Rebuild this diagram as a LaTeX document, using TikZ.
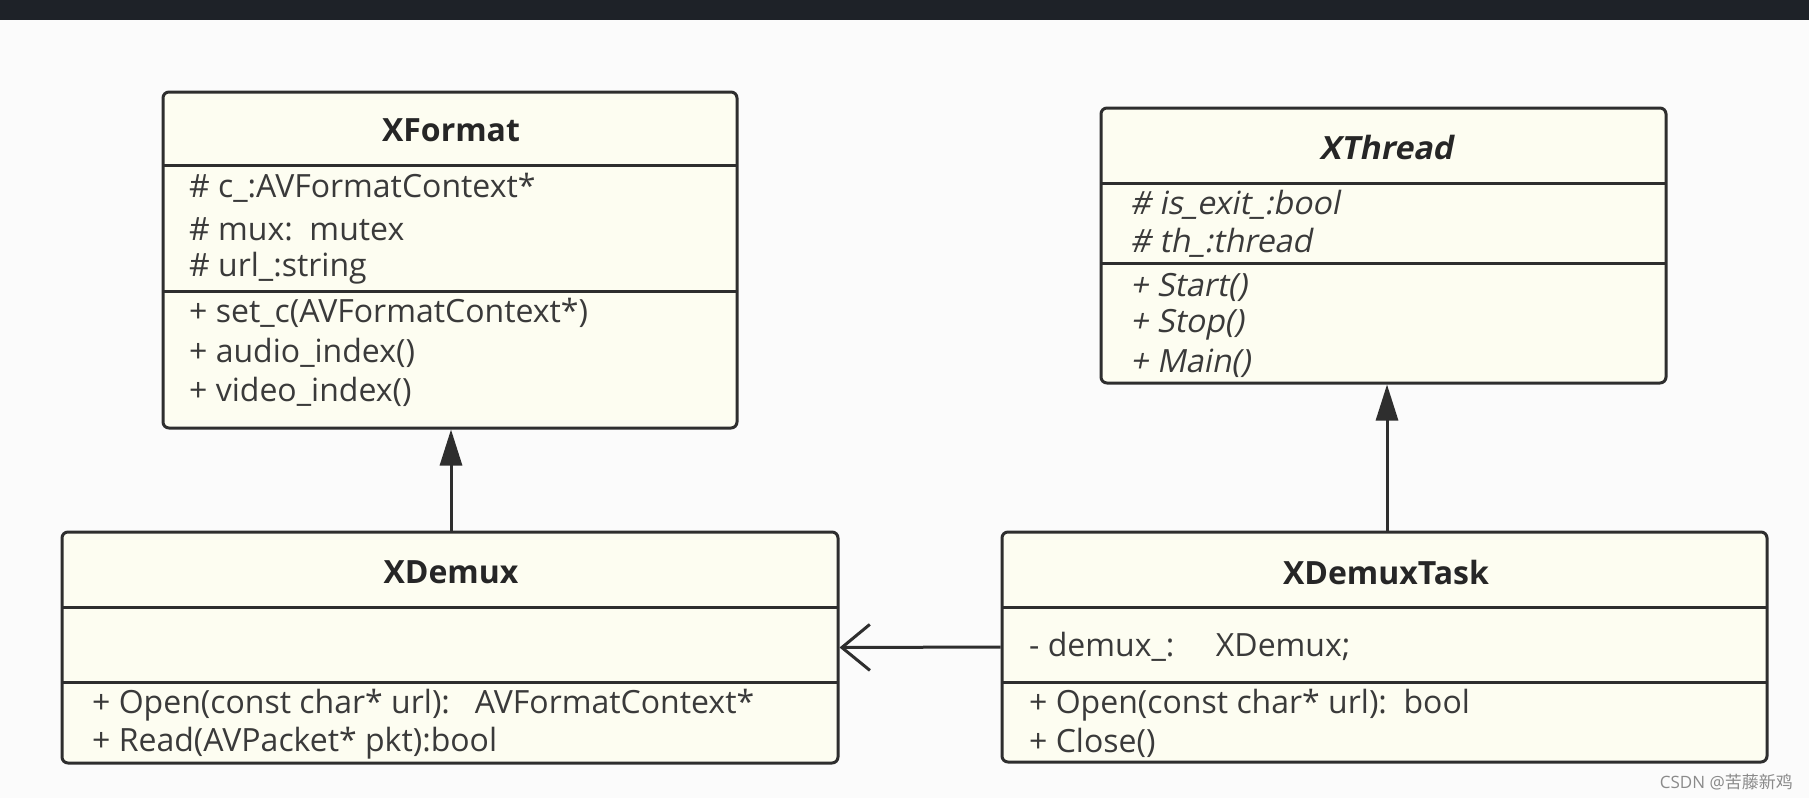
\documentclass[tikz,border=0pt]{standalone}
\usepackage{fontspec}
\setmainfont{Open Sans}
\newfontfamily\oblfont[FakeSlant=0.2]{Open Sans}
\newfontfamily\cjkfont{Noto Sans CJK SC}
\usetikzlibrary{arrows.meta}
\definecolor{bgc}{HTML}{FBFBFB}
\definecolor{barc}{HTML}{1E2228}
\definecolor{boxfill}{HTML}{FDFDF1}
\definecolor{boxline}{HTML}{2E2E2E}
\definecolor{txt}{HTML}{3A3A3A}
\definecolor{ttl}{HTML}{262626}
\definecolor{wm}{HTML}{8A8A8A}
\tikzset{
  umlbox/.style={draw=boxline, line width=3pt, fill=boxfill, rounded corners=6pt, rectangle, inner sep=0pt},
  sepline/.style={draw=boxline, line width=3pt},
  row/.style={anchor=west, inner sep=0pt, text=txt, font=\fontsize{32}{38}\selectfont},
  irow/.style={row, font=\oblfont\fontsize{32}{38}\selectfont},
  title/.style={anchor=center, inner sep=0pt, text=ttl, font=\fontsize{32}{38}\selectfont\bfseries},
  ititle/.style={title, font=\oblfont\fontsize{32}{38}\selectfont\bfseries},
  conn/.style={draw=boxline, line width=3pt},
}
\begin{document}
\begin{tikzpicture}[x=1pt,y=-1pt]
\fill[bgc] (0,0) rectangle (1809,798);
\useasboundingbox (0,0) rectangle (1809,798);
\fill[barc] (0,0) rectangle (1809,20);

% XFormat
\node[umlbox, minimum width=574pt, minimum height=336pt] (xf) at (450,260) {};
\draw[sepline] (163,165) -- (737,165);
\draw[sepline] (163,291) -- (737,291);
\node[title] (xft) at (451,130) {XFormat};
\node[row] (xf1) at (189,188) {\# c\_:AVFormatContext*};
\node[row] (xf2) at (189,229) {\# mux:\ \ mutex};
\node[row] (xf3) at (189,268) {\# url\_:string};
\node[row] (xf4) at (189,313) {+ set\_c(AVFormatContext*)};
\node[row] (xf5) at (189,353) {+ audio\_index()};
\node[row] (xf6) at (189,392) {+ video\_index()};

% XThread
\node[umlbox, minimum width=565pt, minimum height=275pt] (xt) at (1383.5,245.5) {};
\draw[sepline] (1101,183) -- (1666,183);
\draw[sepline] (1101,263) -- (1666,263);
\node[ititle] (xtt) at (1386,147) {XThread};
\node[irow] (xt1) at (1130,205) {\# is\_exit\_:bool};
\node[irow] (xt2) at (1130,243) {\# th\_:thread};
\node[irow] (xt3) at (1130,287) {+ Start()};
\node[irow] (xt4) at (1130,325) {+ Stop()};
\node[irow] (xt5) at (1130,363) {+ Main()};

% XDemux
\node[umlbox, minimum width=776pt, minimum height=231pt] (xd) at (450,647.5) {};
\draw[sepline] (62,607) -- (838,607);
\draw[sepline] (62,682) -- (838,682);
\node[title] (xdt) at (451,572) {XDemux};
\node[row] (xd1) at (92,705) {+ Open(const char* url):\ \ \ AVFormatContext*};
\node[row] (xd2) at (92,743) {+ Read(AVPacket* pkt):bool};

% XDemuxTask
\node[umlbox, minimum width=765pt, minimum height=230pt] (xk) at (1384.5,647) {};
\draw[sepline] (1002,607) -- (1767,607);
\draw[sepline] (1002,682) -- (1767,682);
\node[title] (xkt) at (1386,572) {XDemuxTask};
\node[row] (xk1) at (1029,647) {- demux\_:\ \ \ \ \ XDemux;};
\node[row] (xk2) at (1029,705) {+ Open(const char* url):\ \ bool};
\node[row] (xk3) at (1029,743) {+ Close()};

% connectors
\draw[conn, -{Triangle[length=36pt, width=22pt]}] (xd.north -| xft) -- (xf.south -| xft);
\draw[conn, -{Triangle[length=36pt, width=22pt]}] (1387,532) coordinate (ka) -- (ka |- xt.south);
\draw[conn, -{Straight Barb[length=28pt, width=46pt, line width=3pt]}] (xk.west) -- (xd.east);

% watermark
\node[anchor=east, inner sep=0pt, text=wm, font=\fontsize{17}{20}\selectfont] (wmk) at (1793,782) {CSDN @{\cjkfont 苦藤新鸡}};
\end{tikzpicture}
\end{document}
